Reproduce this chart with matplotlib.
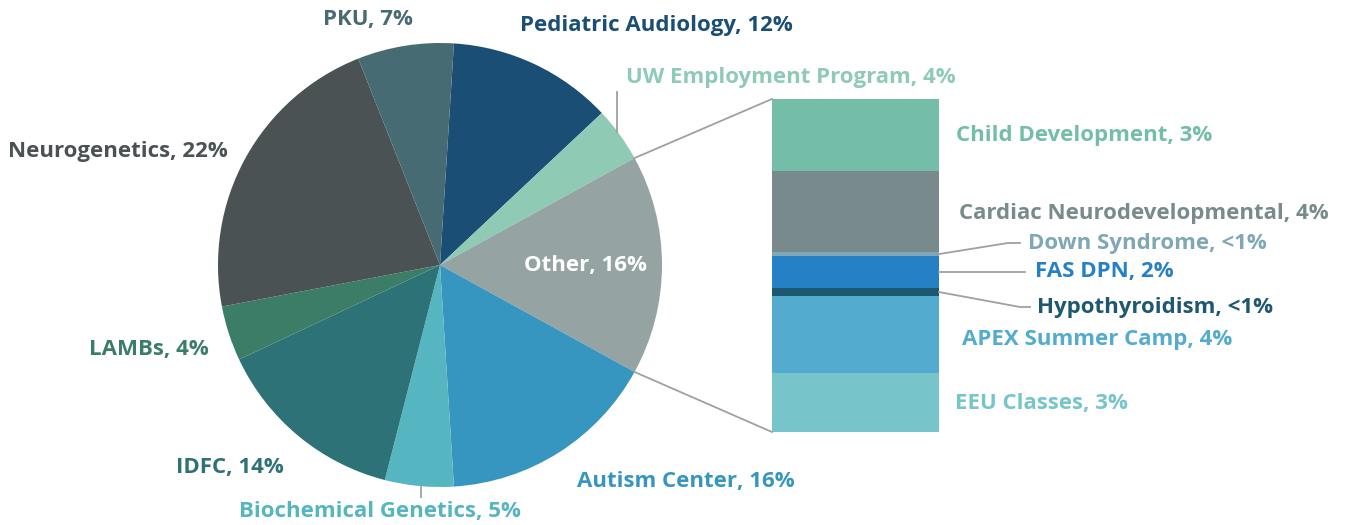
import numpy as np
import matplotlib.pyplot as plt

plt.rcParams['font.family'] = ['Open Sans', 'DejaVu Sans']

# main pie data (clockwise from the top)
pie_labels = ['Pediatric Audiology', 'UW Employment Program', 'Other', 'Autism Center',
              'Biochemical Genetics', 'IDFC', 'LAMBs', 'Neurogenetics', 'PKU']
pie_values = [12, 4, 16, 16, 5, 14, 4, 22, 7]
pie_colors = ['#1a4e75', '#8fcab5', '#95a3a3', '#3796bf', '#55b5c0',
              '#2d7277', '#3b7d66', '#4a5254', '#466b72']

# breakdown of "Other" (top to bottom in the bar)
bar_labels = ['Child Development, 3%', 'Cardiac Neurodevelopmental, 4%', 'Down Syndrome, <1%',
              'FAS DPN, 2%', 'Hypothyroidism, <1%', 'APEX Summer Camp, 4%', 'EEU Classes, 3%']
bar_values = [3.45, 3.9, 0.2, 1.55, 0.35, 3.7, 2.85]
bar_colors = ['#74bda8', '#788a8b', '#7fa7b5', '#2680c6', '#1d5870', '#53acd0', '#78c4cb']

W, H = 1348, 525
fig = plt.figure(figsize=(W / 100, H / 100), dpi=100)
ax = fig.add_axes([0, 0, 1, 1])

cx, cy, r = 440, 260, 222
# rotate so that "Other" is centred on the right-hand side
start = 360 * (pie_values[2] / 2 + pie_values[1] + pie_values[0]) / 100
wedges, _ = ax.pie(pie_values, colors=pie_colors, startangle=start, counterclock=False,
                   radius=r, center=(cx, cy), frame=True,
                   wedgeprops=dict(linewidth=0))
ax.set_xlim(0, W)
ax.set_ylim(0, H)
ax.set_aspect('equal')
ax.axis('off')

# stacked bar for "Other"
bx0, bx1 = 772, 939
btop, bbot = 426, 93
scale = (btop - bbot) / sum(bar_values)
y = btop
seg_mid = []
for v, c in zip(bar_values, bar_colors):
    h = v * scale
    ax.bar(bx0, h, width=bx1 - bx0, bottom=y - h, align='edge', color=c, linewidth=0)
    seg_mid.append(y - h / 2)
    y -= h

# connector lines from the "Other" slice edges to the bar corners
half = np.deg2rad(360 * pie_values[2] / 200)
for sgn, by in [(1, btop), (-1, bbot)]:
    px, py = cx + r * np.cos(half), cy + sgn * r * np.sin(half)
    ax.plot([px, bx0], [py, by], color='#a0a0a0', lw=1.3)

fs = 16
lab_pos = {
    'Pediatric Audiology': (656, 500),
    'UW Employment Program': (791, 448),
    'Other': (585, 260),
    'Autism Center': (686, 44),
    'Biochemical Genetics': (380, 13),
    'IDFC': (230, 58),
    'LAMBs': (149, 176),
    'Neurogenetics': (118, 373),
    'PKU': (368, 506),
}
for name, v, c in zip(pie_labels, pie_values, pie_colors):
    x, yy = lab_pos[name]
    col = 'white' if name == 'Other' else c
    ax.text(x, yy, f'{name}, {v}%', color=col, fontsize=fs, fontweight='bold',
            ha='center', va='center')

# leader lines for small slices
ax.plot([617, 617], [393, 433], color='#a0a0a0', lw=1.3)
ax.plot([421, 421], [28, 38], color='#a0a0a0', lw=1.3)

bar_lab_pos = [(956, 390), (959, 312), (1028, 282), (1035, 253), (1037, 217), (962, 185), (955, 121)]
for lab, c, (x, yy) in zip(bar_labels, bar_colors, bar_lab_pos):
    ax.text(x, yy, lab, color=c, fontsize=fs, fontweight='bold', ha='left', va='center')

# leader lines for the thin bar segments
ax.plot([bx1, 1008, 1020], [seg_mid[2], 282, 282], color='#a0a0a0', lw=1.3)
ax.plot([bx1, 1025], [253, 253], color='#a0a0a0', lw=1.3)
ax.plot([bx1, 1020, 1030], [seg_mid[4], 218, 218], color='#a0a0a0', lw=1.3)

fig.savefig('out.png', dpi=100)
